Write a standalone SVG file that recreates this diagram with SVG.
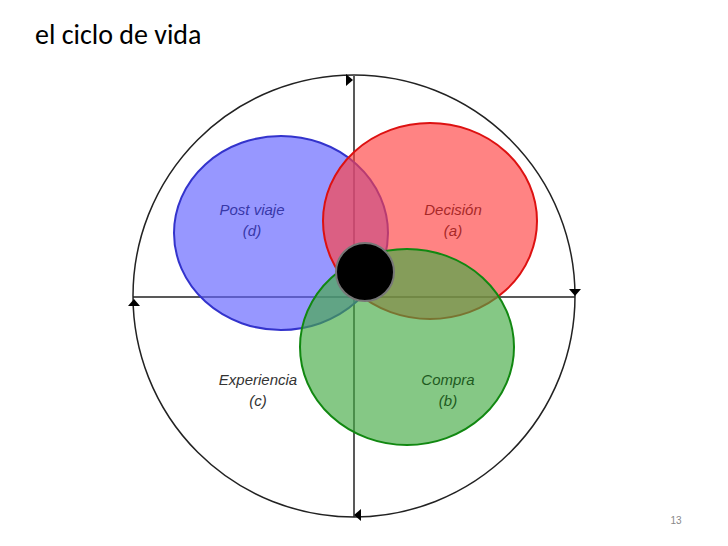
<svg xmlns="http://www.w3.org/2000/svg" width="728" height="546" viewBox="0 0 728 546">
<style>
.l{font-family:"Liberation Sans",Arial,sans-serif;font-style:italic;font-size:15px;text-anchor:middle}
.ax{stroke:#222;stroke-width:1.5;fill:none}
</style>
<rect width="728" height="546" fill="#fff"/>
<text x="35" y="44" font-family="Calibri,'Carlito','Liberation Sans',sans-serif" font-size="28" fill="#000">el ciclo de vida</text>
<g id="connectors">
<circle cx="354" cy="296" r="221" class="ax"/>
<line x1="354" y1="76" x2="354" y2="517" class="ax"/>
<line x1="133" y1="297" x2="575" y2="297" class="ax"/>
<polygon points="346,74 353,80 346,86" fill="#000"/>
<polygon points="569,289 575,296 581,289" fill="#000"/>
<polygon points="361,509 354,515 361,521" fill="#000"/>
<polygon points="128,306 134,299 140,306" fill="#000"/>
</g>
<g id="post"><ellipse cx="281" cy="233" rx="107" ry="97" fill="#6060ff" fill-opacity="0.65" stroke="#3333cc" stroke-width="2"/></g>
<g id="decision"><ellipse cx="430" cy="221" rx="107" ry="98" fill="#ff4040" fill-opacity="0.65" stroke="#dd1111" stroke-width="2"/></g>
<g id="compra"><ellipse cx="407" cy="347" rx="107" ry="98" fill="#44aa44" fill-opacity="0.65" stroke="#118811" stroke-width="2"/></g>
<g id="center"><circle cx="365" cy="272" r="29" fill="#000" stroke="#777" stroke-width="2"/></g>
<text class="l" x="252" y="215" fill="#3838a8">Post viaje</text>
<text class="l" x="252" y="236" fill="#3838a8">(d)</text>
<text class="l" x="453" y="215" fill="#a82828">Decisión</text>
<text class="l" x="453" y="236" fill="#a82828">(a)</text>
<text class="l" x="448" y="385" fill="#1e5a1e">Compra</text>
<text class="l" x="448" y="406" fill="#1e5a1e">(b)</text>
<text class="l" x="258" y="385" fill="#333">Experiencia</text>
<text class="l" x="258" y="406" fill="#333">(c)</text>
<text x="676" y="524" font-family="'Liberation Sans',sans-serif" font-size="10" fill="#888" text-anchor="middle">13</text>
</svg>
